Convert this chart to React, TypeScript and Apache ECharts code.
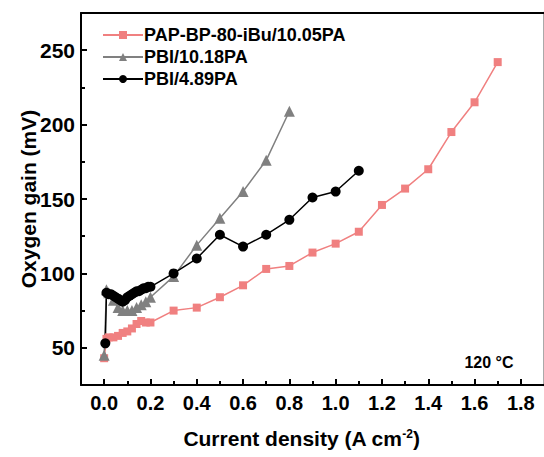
import React, { useEffect, useRef } from "react";
import * as echarts from "echarts";

// PAP-BP-80-iBu/10.05PA
const papX = [0, 0.01, 0.02, 0.04, 0.06, 0.08, 0.1, 0.12, 0.14, 0.16, 0.18, 0.2, 0.3, 0.4, 0.5, 0.6, 0.7, 0.8, 0.9, 1.0, 1.1, 1.2, 1.3, 1.4, 1.5, 1.6, 1.7];
const papY = [43, 56, 57, 57, 58, 60, 61, 63, 66, 68, 67, 67, 75, 77, 84, 92, 103, 105, 114, 120, 128, 146, 157, 170, 195, 215, 242];

// PBI/10.18PA
const pbi10X = [0, 0.01, 0.02, 0.04, 0.06, 0.08, 0.1, 0.12, 0.14, 0.16, 0.18, 0.2, 0.3, 0.4, 0.5, 0.6, 0.7, 0.8];
const pbi10Y = [45, 89, 87, 82, 77, 75, 75, 75, 77, 79, 81, 84, 98, 119, 137, 155, 176, 209];

// PBI/4.89PA
const pbi4X = [0.005, 0.01, 0.02, 0.03, 0.04, 0.05, 0.06, 0.07, 0.08, 0.09, 0.1, 0.11, 0.12, 0.13, 0.14, 0.15, 0.16, 0.17, 0.18, 0.19, 0.2, 0.3, 0.4, 0.5, 0.6, 0.7, 0.8, 0.9, 1.0, 1.1];
const pbi4Y = [53, 87, 86, 86, 85, 84, 83, 82, 81, 82, 84, 85, 86, 87, 88, 88, 89, 90, 90, 91, 91, 100, 110, 126, 118, 126, 136, 151, 155, 169];

const seriesNames = ["PAP-BP-80-iBu/10.05PA", "PBI/10.18PA", "PBI/4.89PA"];

const xMajor = [0, 0.2, 0.4, 0.6, 0.8, 1.0, 1.2, 1.4, 1.6, 1.8];
const xMinor = [0.1, 0.3, 0.5, 0.7, 0.9, 1.1, 1.3, 1.5, 1.7];
const yMajor = [50, 100, 150, 200, 250];
const yMinor = [75, 125, 175, 225];

const FONT = "'Liberation Sans', Arial, Helvetica, sans-serif";

const zip = (xs: number[], ys: number[]) => xs.map((x, i) => [x, ys[i]]);

export default function App() {
  const ref = useRef<HTMLDivElement>(null);
  useEffect(() => {
    document.body.style.margin = "0";
    const chart = echarts.init(ref.current!, null, { renderer: "svg" });
    const axisBase = { min: -0.1, max: 1.9, interval: 0.1, type: "value" as const };
    const yBase = { min: 25, max: 275, interval: 25, type: "value" as const };
    chart.setOption({
      animation: false,
      backgroundColor: "#fff",
      grid: { left: 81, right: 0, top: 13, bottom: 72, containLabel: false },
      legend: {
        orient: "vertical",
        left: 97,
        top: 21,
        itemWidth: 40,
        itemHeight: 10,
        itemGap: 4,
        textStyle: { fontFamily: FONT, fontWeight: "bold", fontSize: 18, color: "#000", padding: [0, 0, 0, -4] },
        data: seriesNames,
      },
      xAxis: [
        {
          ...axisBase,
          position: "bottom",
          axisLine: { show: true, onZero: false, lineStyle: { color: "#000", width: 2 } },
          axisTick: { show: true, inside: true, length: 6, lineStyle: { width: 2, color: "#000" }, customValues: xMajor },
          axisLabel: {
            show: true,
            margin: 8,
            customValues: xMajor,
            formatter: (v: number) => v.toFixed(1),
            fontFamily: FONT,
            fontWeight: "bold",
            fontSize: 20,
            color: "#000",
          },
          splitLine: { show: false },
          name: "{a|Current density (A cm}{s|-2}{a|)}",
          nameLocation: "middle",
          nameGap: 43,
          nameMoveOverlap: false,
          nameTextStyle: {
            padding: [0, 22, 0, 0],
            rich: {
              a: { fontFamily: FONT, fontWeight: "bold", fontSize: 21, color: "#000" },
              s: { fontFamily: FONT, fontWeight: "bold", fontSize: 12, color: "#000", verticalAlign: "top" },
            },
          },
        },
        {
          ...axisBase,
          position: "bottom",
          axisLine: { show: false, onZero: false },
          axisTick: { show: true, inside: true, length: 4, lineStyle: { width: 2, color: "#000" }, customValues: xMinor },
          axisLabel: { show: false },
          splitLine: { show: false },
        },
        {
          ...axisBase,
          position: "top",
          axisLine: { show: true, onZero: false, lineStyle: { color: "#000", width: 2 } },
          axisTick: { show: false },
          axisLabel: { show: false },
          splitLine: { show: false },
        },
      ],
      yAxis: [
        {
          ...yBase,
          position: "left",
          axisLine: { show: true, onZero: false, lineStyle: { color: "#000", width: 2 } },
          axisTick: { show: true, inside: true, length: 6, lineStyle: { width: 2, color: "#000" }, customValues: yMajor },
          axisLabel: {
            show: true,
            margin: 6,
            customValues: yMajor,
            fontFamily: FONT,
            fontWeight: "bold",
            fontSize: 21,
            color: "#000",
          },
          splitLine: { show: false },
          name: "Oxygen gain (mV)",
          nameLocation: "middle",
          nameGap: 42,
          nameMoveOverlap: false,
          nameTextStyle: { fontFamily: FONT, fontWeight: "bold", fontSize: 21, color: "#000" },
        },
        {
          ...yBase,
          position: "left",
          axisLine: { show: false, onZero: false },
          axisTick: { show: true, inside: true, length: 4, lineStyle: { width: 2, color: "#000" }, customValues: yMinor },
          axisLabel: { show: false },
          splitLine: { show: false },
        },
        {
          ...yBase,
          position: "right",
          axisLine: { show: true, onZero: false, lineStyle: { color: "#aaa", width: 3 } },
          axisTick: { show: false },
          axisLabel: { show: false },
          splitLine: { show: false },
        },
      ],
      graphic: [
        {
          type: "text",
          x: 489,
          y: 362,
          style: {
            text: "120 °C",
            fontFamily: FONT,
            fontWeight: "bold",
            fontSize: 16,
            fill: "#000",
            align: "center",
            verticalAlign: "middle",
          },
        },
      ],
      series: [
        {
          name: seriesNames[0],
          type: "line",
          xAxisIndex: 0,
          yAxisIndex: 0,
          data: zip(papX, papY),
          symbol: "rect",
          symbolSize: 8,
          color: "#F08080",
          itemStyle: { color: "#F08080" },
          lineStyle: { color: "#F08080", width: 1.5 },
        },
        {
          name: seriesNames[1],
          type: "line",
          xAxisIndex: 0,
          yAxisIndex: 0,
          data: zip(pbi10X, pbi10Y),
          symbol: "triangle",
          symbolSize: 11,
          color: "#808080",
          itemStyle: { color: "#808080" },
          lineStyle: { color: "#808080", width: 1.5 },
        },
        {
          name: seriesNames[2],
          type: "line",
          xAxisIndex: 0,
          yAxisIndex: 0,
          data: zip(pbi4X, pbi4Y),
          symbol: "circle",
          symbolSize: 10,
          color: "#000",
          itemStyle: { color: "#000" },
          lineStyle: { color: "#000", width: 1.5 },
        },
      ],
    });
    return () => chart.dispose();
  }, []);
  return <div ref={ref} style={{ position: "absolute", left: 0, top: 0, width: 544, height: 457 }} />;
}
